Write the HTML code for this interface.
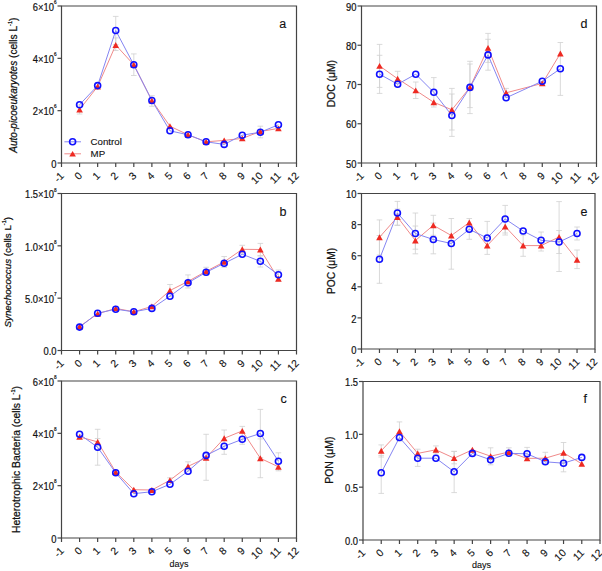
<!DOCTYPE html>
<html><head><meta charset="utf-8"><style>
html,body{margin:0;padding:0;background:#fff;}
svg{display:block;font-family:"Liberation Sans", sans-serif;fill:#111;}
text{fill:#111;stroke:#111;stroke-width:0.12px;}
</style></head><body>
<svg width="602" height="571" viewBox="0 0 602 571">
<rect width="602" height="571" fill="#fff"/>
<g><path d="M115.73 16.40V44.60M112.93 16.40H118.53M112.93 44.60H118.53" stroke="#d0d0d0" stroke-width="0.8" fill="none"/><path d="M133.81 53.90V75.50M131.01 53.90H136.61M131.01 75.50H136.61" stroke="#d0d0d0" stroke-width="0.8" fill="none"/><path d="M151.88 95.70V106.30M149.08 95.70H154.68M149.08 106.30H154.68" stroke="#d0d0d0" stroke-width="0.8" fill="none"/><path d="M260.35 126.20V137.80M257.55 126.20H263.15M257.55 137.80H263.15" stroke="#d0d0d0" stroke-width="0.8" fill="none"/><path d="M79.58 105.00V114.00M76.78 105.00H82.38M76.78 114.00H82.38" stroke="#d0d0d0" stroke-width="0.8" fill="none"/><path d="M115.73 37.90V50.50M112.93 37.90H118.53M112.93 50.50H118.53" stroke="#d0d0d0" stroke-width="0.8" fill="none"/><path d="M79.58 109.50 L97.65 86.50 L115.73 45.00 L133.81 64.80 L151.88 100.50 L169.96 126.20 L188.04 134.80 L206.12 141.80 L224.19 140.40 L242.27 138.40 L260.35 131.50 L278.42 128.40" stroke="#f08a8a" stroke-width="1.0" fill="none" stroke-linejoin="round"/><path d="M79.58 104.70 L97.65 85.60 L115.73 30.50 L133.81 64.80 L151.88 100.50 L169.96 130.80 L188.04 134.80 L206.12 141.80 L224.19 144.40 L242.27 135.20 L260.35 132.20 L278.42 124.80" stroke="#8585f2" stroke-width="1.0" fill="none" stroke-linejoin="round"/><path d="M79.58 106.50L82.88 112.40L76.28 112.40Z" fill="#ee2a22"/><path d="M97.65 83.50L100.95 89.40L94.35 89.40Z" fill="#ee2a22"/><path d="M115.73 42.00L119.03 47.90L112.43 47.90Z" fill="#ee2a22"/><path d="M133.81 61.80L137.11 67.70L130.51 67.70Z" fill="#ee2a22"/><path d="M151.88 97.50L155.18 103.40L148.58 103.40Z" fill="#ee2a22"/><path d="M169.96 123.20L173.26 129.10L166.66 129.10Z" fill="#ee2a22"/><path d="M188.04 131.80L191.34 137.70L184.74 137.70Z" fill="#ee2a22"/><path d="M206.12 138.80L209.42 144.70L202.82 144.70Z" fill="#ee2a22"/><path d="M224.19 137.40L227.49 143.30L220.89 143.30Z" fill="#ee2a22"/><path d="M242.27 135.40L245.57 141.30L238.97 141.30Z" fill="#ee2a22"/><path d="M260.35 128.50L263.65 134.40L257.05 134.40Z" fill="#ee2a22"/><path d="M278.42 125.40L281.72 131.30L275.12 131.30Z" fill="#ee2a22"/><circle cx="79.58" cy="104.70" r="3.0" stroke="#1010ff" stroke-width="1.6" fill="none"/><circle cx="97.65" cy="85.60" r="3.0" stroke="#1010ff" stroke-width="1.6" fill="none"/><circle cx="115.73" cy="30.50" r="3.0" stroke="#1010ff" stroke-width="1.6" fill="none"/><circle cx="133.81" cy="64.80" r="3.0" stroke="#1010ff" stroke-width="1.6" fill="none"/><circle cx="151.88" cy="100.50" r="3.0" stroke="#1010ff" stroke-width="1.6" fill="none"/><circle cx="169.96" cy="130.80" r="3.0" stroke="#1010ff" stroke-width="1.6" fill="none"/><circle cx="188.04" cy="134.80" r="3.0" stroke="#1010ff" stroke-width="1.6" fill="none"/><circle cx="206.12" cy="141.80" r="3.0" stroke="#1010ff" stroke-width="1.6" fill="none"/><circle cx="224.19" cy="144.40" r="3.0" stroke="#1010ff" stroke-width="1.6" fill="none"/><circle cx="242.27" cy="135.20" r="3.0" stroke="#1010ff" stroke-width="1.6" fill="none"/><circle cx="260.35" cy="132.20" r="3.0" stroke="#1010ff" stroke-width="1.6" fill="none"/><circle cx="278.42" cy="124.80" r="3.0" stroke="#1010ff" stroke-width="1.6" fill="none"/><path d="M61.5 6H296.5V163H61.5Z" stroke="#444" stroke-width="1.2" fill="none"/><path d="M57.50 163.00H61.5" stroke="#444" stroke-width="1.2"/><text transform="translate(56.50 167.60) scale(0.93 1)" text-anchor="end" font-size="10.1" style="stroke-width:0.2px">0</text><path d="M57.50 110.67H61.5" stroke="#444" stroke-width="1.2"/><text transform="translate(56.50 115.27) scale(0.93 1)" text-anchor="end" font-size="10.1" style="stroke-width:0.2px">2×10<tspan font-size="5" dy="-6.8">6</tspan></text><path d="M57.50 58.33H61.5" stroke="#444" stroke-width="1.2"/><text transform="translate(56.50 62.93) scale(0.93 1)" text-anchor="end" font-size="10.1" style="stroke-width:0.2px">4×10<tspan font-size="5" dy="-6.8">6</tspan></text><path d="M57.50 6.00H61.5" stroke="#444" stroke-width="1.2"/><text transform="translate(56.50 10.60) scale(0.93 1)" text-anchor="end" font-size="10.1" style="stroke-width:0.2px">6×10<tspan font-size="5" dy="-6.8">6</tspan></text><path d="M61.50 163V167" stroke="#444" stroke-width="1.2"/><text x="64.70" y="176.50" text-anchor="end" font-size="10.4" transform="rotate(-45 64.70 176.50)">-1</text><path d="M79.58 163V167" stroke="#444" stroke-width="1.2"/><text x="82.78" y="176.50" text-anchor="end" font-size="10.4" transform="rotate(-45 82.78 176.50)">0</text><path d="M97.65 163V167" stroke="#444" stroke-width="1.2"/><text x="100.85" y="176.50" text-anchor="end" font-size="10.4" transform="rotate(-45 100.85 176.50)">1</text><path d="M115.73 163V167" stroke="#444" stroke-width="1.2"/><text x="118.93" y="176.50" text-anchor="end" font-size="10.4" transform="rotate(-45 118.93 176.50)">2</text><path d="M133.81 163V167" stroke="#444" stroke-width="1.2"/><text x="137.01" y="176.50" text-anchor="end" font-size="10.4" transform="rotate(-45 137.01 176.50)">3</text><path d="M151.88 163V167" stroke="#444" stroke-width="1.2"/><text x="155.08" y="176.50" text-anchor="end" font-size="10.4" transform="rotate(-45 155.08 176.50)">4</text><path d="M169.96 163V167" stroke="#444" stroke-width="1.2"/><text x="173.16" y="176.50" text-anchor="end" font-size="10.4" transform="rotate(-45 173.16 176.50)">5</text><path d="M188.04 163V167" stroke="#444" stroke-width="1.2"/><text x="191.24" y="176.50" text-anchor="end" font-size="10.4" transform="rotate(-45 191.24 176.50)">6</text><path d="M206.12 163V167" stroke="#444" stroke-width="1.2"/><text x="209.32" y="176.50" text-anchor="end" font-size="10.4" transform="rotate(-45 209.32 176.50)">7</text><path d="M224.19 163V167" stroke="#444" stroke-width="1.2"/><text x="227.39" y="176.50" text-anchor="end" font-size="10.4" transform="rotate(-45 227.39 176.50)">8</text><path d="M242.27 163V167" stroke="#444" stroke-width="1.2"/><text x="245.47" y="176.50" text-anchor="end" font-size="10.4" transform="rotate(-45 245.47 176.50)">9</text><path d="M260.35 163V167" stroke="#444" stroke-width="1.2"/><text x="263.55" y="176.50" text-anchor="end" font-size="10.4" transform="rotate(-45 263.55 176.50)">10</text><path d="M278.42 163V167" stroke="#444" stroke-width="1.2"/><text x="281.62" y="176.50" text-anchor="end" font-size="10.4" transform="rotate(-45 281.62 176.50)">11</text><path d="M296.50 163V167" stroke="#444" stroke-width="1.2"/><text x="299.70" y="176.50" text-anchor="end" font-size="10.4" transform="rotate(-45 299.70 176.50)">12</text><text x="17.10" y="85.20" text-anchor="middle" font-size="10.1" style="stroke-width:0.25px" transform="rotate(-90 17.10 85.20)"><tspan font-style="italic">Auto-picoeukaryotes</tspan> (cells L<tspan font-size="5.6" dy="-5.2">-1</tspan><tspan dy="5.2">)</tspan></text><text x="279.30" y="28.30" font-size="12.5">a</text><path d="M64.4 141.8H81" stroke="#8585f2" stroke-width="1"/><circle cx="72.6" cy="141.8" r="3.0" stroke="#1010ff" stroke-width="1.6" fill="none"/><path d="M64.4 153.8H81" stroke="#f08a8a" stroke-width="1"/><path d="M72.6 150.9L75.9 156.5L69.3 156.5Z" fill="#ee2a22"/><text x="90.6" y="145.4" font-size="9.7">Control</text><text x="90.6" y="157" font-size="9.7">MP</text></g>
<g><path d="M260.35 256.00V267.00M257.55 256.00H263.15M257.55 267.00H263.15" stroke="#d0d0d0" stroke-width="0.8" fill="none"/><path d="M278.42 270.00V281.00M275.62 270.00H281.22M275.62 281.00H281.22" stroke="#d0d0d0" stroke-width="0.8" fill="none"/><path d="M169.96 284.50V296.50M167.16 284.50H172.76M167.16 296.50H172.76" stroke="#d0d0d0" stroke-width="0.8" fill="none"/><path d="M188.04 274.90V288.00M185.24 274.90H190.84M185.24 288.00H190.84" stroke="#d0d0d0" stroke-width="0.8" fill="none"/><path d="M206.12 267.30V275.30M203.32 267.30H208.92M203.32 275.30H208.92" stroke="#d0d0d0" stroke-width="0.8" fill="none"/><path d="M224.19 256.50V267.30M221.39 256.50H226.99M221.39 267.30H226.99" stroke="#d0d0d0" stroke-width="0.8" fill="none"/><path d="M242.27 245.30V253.30M239.47 245.30H245.07M239.47 253.30H245.07" stroke="#d0d0d0" stroke-width="0.8" fill="none"/><path d="M260.35 243.40V255.60M257.55 243.40H263.15M257.55 255.60H263.15" stroke="#d0d0d0" stroke-width="0.8" fill="none"/><path d="M79.58 326.50 L97.65 313.80 L115.73 308.40 L133.81 311.80 L151.88 306.40 L169.96 290.50 L188.04 281.40 L206.12 271.30 L224.19 261.90 L242.27 249.30 L260.35 249.50 L278.42 278.80" stroke="#f08a8a" stroke-width="1.0" fill="none" stroke-linejoin="round"/><path d="M79.58 327.10 L97.65 313.20 L115.73 309.20 L133.81 311.80 L151.88 308.40 L169.96 296.20 L188.04 282.80 L206.12 272.30 L224.19 263.30 L242.27 254.30 L260.35 261.30 L278.42 274.80" stroke="#8585f2" stroke-width="1.0" fill="none" stroke-linejoin="round"/><path d="M79.58 323.50L82.88 329.40L76.28 329.40Z" fill="#ee2a22"/><path d="M97.65 310.80L100.95 316.70L94.35 316.70Z" fill="#ee2a22"/><path d="M115.73 305.40L119.03 311.30L112.43 311.30Z" fill="#ee2a22"/><path d="M133.81 308.80L137.11 314.70L130.51 314.70Z" fill="#ee2a22"/><path d="M151.88 303.40L155.18 309.30L148.58 309.30Z" fill="#ee2a22"/><path d="M169.96 287.50L173.26 293.40L166.66 293.40Z" fill="#ee2a22"/><path d="M188.04 278.40L191.34 284.30L184.74 284.30Z" fill="#ee2a22"/><path d="M206.12 268.30L209.42 274.20L202.82 274.20Z" fill="#ee2a22"/><path d="M224.19 258.90L227.49 264.80L220.89 264.80Z" fill="#ee2a22"/><path d="M242.27 246.30L245.57 252.20L238.97 252.20Z" fill="#ee2a22"/><path d="M260.35 246.50L263.65 252.40L257.05 252.40Z" fill="#ee2a22"/><path d="M278.42 275.80L281.72 281.70L275.12 281.70Z" fill="#ee2a22"/><circle cx="79.58" cy="327.10" r="3.0" stroke="#1010ff" stroke-width="1.6" fill="none"/><circle cx="97.65" cy="313.20" r="3.0" stroke="#1010ff" stroke-width="1.6" fill="none"/><circle cx="115.73" cy="309.20" r="3.0" stroke="#1010ff" stroke-width="1.6" fill="none"/><circle cx="133.81" cy="311.80" r="3.0" stroke="#1010ff" stroke-width="1.6" fill="none"/><circle cx="151.88" cy="308.40" r="3.0" stroke="#1010ff" stroke-width="1.6" fill="none"/><circle cx="169.96" cy="296.20" r="3.0" stroke="#1010ff" stroke-width="1.6" fill="none"/><circle cx="188.04" cy="282.80" r="3.0" stroke="#1010ff" stroke-width="1.6" fill="none"/><circle cx="206.12" cy="272.30" r="3.0" stroke="#1010ff" stroke-width="1.6" fill="none"/><circle cx="224.19" cy="263.30" r="3.0" stroke="#1010ff" stroke-width="1.6" fill="none"/><circle cx="242.27" cy="254.30" r="3.0" stroke="#1010ff" stroke-width="1.6" fill="none"/><circle cx="260.35" cy="261.30" r="3.0" stroke="#1010ff" stroke-width="1.6" fill="none"/><circle cx="278.42" cy="274.80" r="3.0" stroke="#1010ff" stroke-width="1.6" fill="none"/><path d="M61.5 193.5H296.5V350.5H61.5Z" stroke="#444" stroke-width="1.2" fill="none"/><path d="M57.50 350.50H61.5" stroke="#444" stroke-width="1.2"/><text transform="translate(56.50 355.30) scale(0.93 1)" text-anchor="end" font-size="10.1" style="stroke-width:0.2px">0.0</text><path d="M57.50 298.17H61.5" stroke="#444" stroke-width="1.2"/><text transform="translate(56.50 302.97) scale(0.93 1)" text-anchor="end" font-size="10.1" style="stroke-width:0.2px">5.0×10<tspan font-size="5" dy="-6.8">7</tspan></text><path d="M57.50 245.83H61.5" stroke="#444" stroke-width="1.2"/><text transform="translate(56.50 250.63) scale(0.93 1)" text-anchor="end" font-size="10.1" style="stroke-width:0.2px">1.0×10<tspan font-size="5" dy="-6.8">8</tspan></text><path d="M57.50 193.50H61.5" stroke="#444" stroke-width="1.2"/><text transform="translate(56.50 198.30) scale(0.93 1)" text-anchor="end" font-size="10.1" style="stroke-width:0.2px">1.5×10<tspan font-size="5" dy="-6.8">8</tspan></text><path d="M61.50 350.5V354.5" stroke="#444" stroke-width="1.2"/><text x="64.70" y="364.00" text-anchor="end" font-size="10.4" transform="rotate(-45 64.70 364.00)">-1</text><path d="M79.58 350.5V354.5" stroke="#444" stroke-width="1.2"/><text x="82.78" y="364.00" text-anchor="end" font-size="10.4" transform="rotate(-45 82.78 364.00)">0</text><path d="M97.65 350.5V354.5" stroke="#444" stroke-width="1.2"/><text x="100.85" y="364.00" text-anchor="end" font-size="10.4" transform="rotate(-45 100.85 364.00)">1</text><path d="M115.73 350.5V354.5" stroke="#444" stroke-width="1.2"/><text x="118.93" y="364.00" text-anchor="end" font-size="10.4" transform="rotate(-45 118.93 364.00)">2</text><path d="M133.81 350.5V354.5" stroke="#444" stroke-width="1.2"/><text x="137.01" y="364.00" text-anchor="end" font-size="10.4" transform="rotate(-45 137.01 364.00)">3</text><path d="M151.88 350.5V354.5" stroke="#444" stroke-width="1.2"/><text x="155.08" y="364.00" text-anchor="end" font-size="10.4" transform="rotate(-45 155.08 364.00)">4</text><path d="M169.96 350.5V354.5" stroke="#444" stroke-width="1.2"/><text x="173.16" y="364.00" text-anchor="end" font-size="10.4" transform="rotate(-45 173.16 364.00)">5</text><path d="M188.04 350.5V354.5" stroke="#444" stroke-width="1.2"/><text x="191.24" y="364.00" text-anchor="end" font-size="10.4" transform="rotate(-45 191.24 364.00)">6</text><path d="M206.12 350.5V354.5" stroke="#444" stroke-width="1.2"/><text x="209.32" y="364.00" text-anchor="end" font-size="10.4" transform="rotate(-45 209.32 364.00)">7</text><path d="M224.19 350.5V354.5" stroke="#444" stroke-width="1.2"/><text x="227.39" y="364.00" text-anchor="end" font-size="10.4" transform="rotate(-45 227.39 364.00)">8</text><path d="M242.27 350.5V354.5" stroke="#444" stroke-width="1.2"/><text x="245.47" y="364.00" text-anchor="end" font-size="10.4" transform="rotate(-45 245.47 364.00)">9</text><path d="M260.35 350.5V354.5" stroke="#444" stroke-width="1.2"/><text x="263.55" y="364.00" text-anchor="end" font-size="10.4" transform="rotate(-45 263.55 364.00)">10</text><path d="M278.42 350.5V354.5" stroke="#444" stroke-width="1.2"/><text x="281.62" y="364.00" text-anchor="end" font-size="10.4" transform="rotate(-45 281.62 364.00)">11</text><path d="M296.50 350.5V354.5" stroke="#444" stroke-width="1.2"/><text x="299.70" y="364.00" text-anchor="end" font-size="10.4" transform="rotate(-45 299.70 364.00)">12</text><text x="10.80" y="272.20" text-anchor="middle" font-size="9.8" style="stroke-width:0.25px" transform="rotate(-90 10.80 272.20)"><tspan font-style="italic">Synechococcus</tspan> (cells L<tspan font-size="5.6" dy="-5.2">-1</tspan><tspan dy="5.2">)</tspan></text><text x="279.60" y="216.30" font-size="12.5">b</text></g>
<g><path d="M97.65 429.30V465.20M94.85 429.30H100.45M94.85 465.20H100.45" stroke="#d0d0d0" stroke-width="0.8" fill="none"/><path d="M206.12 434.30V480.30M203.32 434.30H208.92M203.32 480.30H208.92" stroke="#d0d0d0" stroke-width="0.8" fill="none"/><path d="M260.35 409.40V457.60M257.55 409.40H263.15M257.55 457.60H263.15" stroke="#d0d0d0" stroke-width="0.8" fill="none"/><path d="M278.42 452.80V470.80M275.62 452.80H281.22M275.62 470.80H281.22" stroke="#d0d0d0" stroke-width="0.8" fill="none"/><path d="M97.65 438.50V445.30M94.85 438.50H100.45M94.85 445.30H100.45" stroke="#d0d0d0" stroke-width="0.8" fill="none"/><path d="M169.96 477.80V482.60M167.16 477.80H172.76M167.16 482.60H172.76" stroke="#d0d0d0" stroke-width="0.8" fill="none"/><path d="M188.04 461.80V471.00M185.24 461.80H190.84M185.24 471.00H190.84" stroke="#d0d0d0" stroke-width="0.8" fill="none"/><path d="M224.19 430.00V454.30M221.39 430.00H226.99M221.39 454.30H226.99" stroke="#d0d0d0" stroke-width="0.8" fill="none"/><path d="M242.27 426.40V444.30M239.47 426.40H245.07M239.47 444.30H245.07" stroke="#d0d0d0" stroke-width="0.8" fill="none"/><path d="M260.35 438.90V477.70M257.55 438.90H263.15M257.55 477.70H263.15" stroke="#d0d0d0" stroke-width="0.8" fill="none"/><path d="M79.58 436.90 L97.65 441.90 L115.73 472.00 L133.81 489.70 L151.88 490.00 L169.96 480.20 L188.04 466.40 L206.12 457.80 L224.19 438.30 L242.27 430.90 L260.35 458.30 L278.42 466.80" stroke="#f08a8a" stroke-width="1.0" fill="none" stroke-linejoin="round"/><path d="M79.58 434.30 L97.65 447.30 L115.73 472.80 L133.81 493.70 L151.88 491.70 L169.96 484.30 L188.04 471.20 L206.12 455.40 L224.19 446.30 L242.27 439.30 L260.35 433.50 L278.42 461.20" stroke="#8585f2" stroke-width="1.0" fill="none" stroke-linejoin="round"/><path d="M79.58 433.90L82.88 439.80L76.28 439.80Z" fill="#ee2a22"/><path d="M97.65 438.90L100.95 444.80L94.35 444.80Z" fill="#ee2a22"/><path d="M115.73 469.00L119.03 474.90L112.43 474.90Z" fill="#ee2a22"/><path d="M133.81 486.70L137.11 492.60L130.51 492.60Z" fill="#ee2a22"/><path d="M151.88 487.00L155.18 492.90L148.58 492.90Z" fill="#ee2a22"/><path d="M169.96 477.20L173.26 483.10L166.66 483.10Z" fill="#ee2a22"/><path d="M188.04 463.40L191.34 469.30L184.74 469.30Z" fill="#ee2a22"/><path d="M206.12 454.80L209.42 460.70L202.82 460.70Z" fill="#ee2a22"/><path d="M224.19 435.30L227.49 441.20L220.89 441.20Z" fill="#ee2a22"/><path d="M242.27 427.90L245.57 433.80L238.97 433.80Z" fill="#ee2a22"/><path d="M260.35 455.30L263.65 461.20L257.05 461.20Z" fill="#ee2a22"/><path d="M278.42 463.80L281.72 469.70L275.12 469.70Z" fill="#ee2a22"/><circle cx="79.58" cy="434.30" r="3.0" stroke="#1010ff" stroke-width="1.6" fill="none"/><circle cx="97.65" cy="447.30" r="3.0" stroke="#1010ff" stroke-width="1.6" fill="none"/><circle cx="115.73" cy="472.80" r="3.0" stroke="#1010ff" stroke-width="1.6" fill="none"/><circle cx="133.81" cy="493.70" r="3.0" stroke="#1010ff" stroke-width="1.6" fill="none"/><circle cx="151.88" cy="491.70" r="3.0" stroke="#1010ff" stroke-width="1.6" fill="none"/><circle cx="169.96" cy="484.30" r="3.0" stroke="#1010ff" stroke-width="1.6" fill="none"/><circle cx="188.04" cy="471.20" r="3.0" stroke="#1010ff" stroke-width="1.6" fill="none"/><circle cx="206.12" cy="455.40" r="3.0" stroke="#1010ff" stroke-width="1.6" fill="none"/><circle cx="224.19" cy="446.30" r="3.0" stroke="#1010ff" stroke-width="1.6" fill="none"/><circle cx="242.27" cy="439.30" r="3.0" stroke="#1010ff" stroke-width="1.6" fill="none"/><circle cx="260.35" cy="433.50" r="3.0" stroke="#1010ff" stroke-width="1.6" fill="none"/><circle cx="278.42" cy="461.20" r="3.0" stroke="#1010ff" stroke-width="1.6" fill="none"/><path d="M61.5 381H296.5V538H61.5Z" stroke="#444" stroke-width="1.2" fill="none"/><path d="M57.50 538.00H61.5" stroke="#444" stroke-width="1.2"/><text transform="translate(56.50 542.60) scale(0.93 1)" text-anchor="end" font-size="10.1" style="stroke-width:0.2px">0</text><path d="M57.50 485.67H61.5" stroke="#444" stroke-width="1.2"/><text transform="translate(56.50 490.27) scale(0.93 1)" text-anchor="end" font-size="10.1" style="stroke-width:0.2px">2×10<tspan font-size="5" dy="-6.8">8</tspan></text><path d="M57.50 433.33H61.5" stroke="#444" stroke-width="1.2"/><text transform="translate(56.50 437.93) scale(0.93 1)" text-anchor="end" font-size="10.1" style="stroke-width:0.2px">4×10<tspan font-size="5" dy="-6.8">8</tspan></text><path d="M57.50 381.00H61.5" stroke="#444" stroke-width="1.2"/><text transform="translate(56.50 385.60) scale(0.93 1)" text-anchor="end" font-size="10.1" style="stroke-width:0.2px">6×10<tspan font-size="5" dy="-6.8">8</tspan></text><path d="M61.50 538V542" stroke="#444" stroke-width="1.2"/><text x="64.70" y="551.50" text-anchor="end" font-size="10.4" transform="rotate(-45 64.70 551.50)">-1</text><path d="M79.58 538V542" stroke="#444" stroke-width="1.2"/><text x="82.78" y="551.50" text-anchor="end" font-size="10.4" transform="rotate(-45 82.78 551.50)">0</text><path d="M97.65 538V542" stroke="#444" stroke-width="1.2"/><text x="100.85" y="551.50" text-anchor="end" font-size="10.4" transform="rotate(-45 100.85 551.50)">1</text><path d="M115.73 538V542" stroke="#444" stroke-width="1.2"/><text x="118.93" y="551.50" text-anchor="end" font-size="10.4" transform="rotate(-45 118.93 551.50)">2</text><path d="M133.81 538V542" stroke="#444" stroke-width="1.2"/><text x="137.01" y="551.50" text-anchor="end" font-size="10.4" transform="rotate(-45 137.01 551.50)">3</text><path d="M151.88 538V542" stroke="#444" stroke-width="1.2"/><text x="155.08" y="551.50" text-anchor="end" font-size="10.4" transform="rotate(-45 155.08 551.50)">4</text><path d="M169.96 538V542" stroke="#444" stroke-width="1.2"/><text x="173.16" y="551.50" text-anchor="end" font-size="10.4" transform="rotate(-45 173.16 551.50)">5</text><path d="M188.04 538V542" stroke="#444" stroke-width="1.2"/><text x="191.24" y="551.50" text-anchor="end" font-size="10.4" transform="rotate(-45 191.24 551.50)">6</text><path d="M206.12 538V542" stroke="#444" stroke-width="1.2"/><text x="209.32" y="551.50" text-anchor="end" font-size="10.4" transform="rotate(-45 209.32 551.50)">7</text><path d="M224.19 538V542" stroke="#444" stroke-width="1.2"/><text x="227.39" y="551.50" text-anchor="end" font-size="10.4" transform="rotate(-45 227.39 551.50)">8</text><path d="M242.27 538V542" stroke="#444" stroke-width="1.2"/><text x="245.47" y="551.50" text-anchor="end" font-size="10.4" transform="rotate(-45 245.47 551.50)">9</text><path d="M260.35 538V542" stroke="#444" stroke-width="1.2"/><text x="263.55" y="551.50" text-anchor="end" font-size="10.4" transform="rotate(-45 263.55 551.50)">10</text><path d="M278.42 538V542" stroke="#444" stroke-width="1.2"/><text x="281.62" y="551.50" text-anchor="end" font-size="10.4" transform="rotate(-45 281.62 551.50)">11</text><path d="M296.50 538V542" stroke="#444" stroke-width="1.2"/><text x="299.70" y="551.50" text-anchor="end" font-size="10.4" transform="rotate(-45 299.70 551.50)">12</text><text x="20.10" y="459.50" text-anchor="middle" font-size="10.35" style="stroke-width:0.25px" transform="rotate(-90 20.10 459.50)">Heterotrophic Bacteria (cells L<tspan font-size="5.6" dy="-5.2">-1</tspan><tspan dy="5.2">)</tspan></text><text x="280.60" y="403.00" font-size="12.5">c</text><text x="179.00" y="566.70" text-anchor="middle" font-size="9">days</text></g>
<g><path d="M379.58 55.30V93.40M376.78 55.30H382.38M376.78 93.40H382.38" stroke="#d0d0d0" stroke-width="0.8" fill="none"/><path d="M433.81 77.60V107.00M431.01 77.60H436.61M431.01 107.00H436.61" stroke="#d0d0d0" stroke-width="0.8" fill="none"/><path d="M451.88 94.00V136.40M449.08 94.00H454.68M449.08 136.40H454.68" stroke="#d0d0d0" stroke-width="0.8" fill="none"/><path d="M469.96 61.30V113.60M467.16 61.30H472.76M467.16 113.60H472.76" stroke="#d0d0d0" stroke-width="0.8" fill="none"/><path d="M488.04 39.30V70.20M485.24 39.30H490.84M485.24 70.20H490.84" stroke="#d0d0d0" stroke-width="0.8" fill="none"/><path d="M560.35 42.50V95.40M557.55 42.50H563.15M557.55 95.40H563.15" stroke="#d0d0d0" stroke-width="0.8" fill="none"/><path d="M379.58 44.40V87.40M376.78 44.40H382.38M376.78 87.40H382.38" stroke="#d0d0d0" stroke-width="0.8" fill="none"/><path d="M397.65 71.30V86.30M394.85 71.30H400.45M394.85 86.30H400.45" stroke="#d0d0d0" stroke-width="0.8" fill="none"/><path d="M415.73 82.00V98.50M412.93 82.00H418.53M412.93 98.50H418.53" stroke="#d0d0d0" stroke-width="0.8" fill="none"/><path d="M451.88 88.40V130.00M449.08 88.40H454.68M449.08 130.00H454.68" stroke="#d0d0d0" stroke-width="0.8" fill="none"/><path d="M469.96 64.00V107.60M467.16 64.00H472.76M467.16 107.60H472.76" stroke="#d0d0d0" stroke-width="0.8" fill="none"/><path d="M488.04 33.40V62.40M485.24 33.40H490.84M485.24 62.40H490.84" stroke="#d0d0d0" stroke-width="0.8" fill="none"/><path d="M506.12 88.40V97.20M503.32 88.40H508.92M503.32 97.20H508.92" stroke="#d0d0d0" stroke-width="0.8" fill="none"/><path d="M379.58 65.90 L397.65 78.80 L415.73 90.40 L433.81 102.30 L451.88 109.80 L469.96 87.40 L488.04 47.90 L506.12 92.80 L542.27 83.40 L560.35 53.50" stroke="#f08a8a" stroke-width="1.0" fill="none" stroke-linejoin="round"/><path d="M379.58 74.20 L397.65 84.20 L415.73 74.20 L433.81 92.30 L451.88 115.50 L469.96 87.40 L488.04 54.90 L506.12 97.80 L542.27 81.20 L560.35 68.80" stroke="#8585f2" stroke-width="1.0" fill="none" stroke-linejoin="round"/><path d="M379.58 62.90L382.88 68.80L376.28 68.80Z" fill="#ee2a22"/><path d="M397.65 75.80L400.95 81.70L394.35 81.70Z" fill="#ee2a22"/><path d="M415.73 87.40L419.03 93.30L412.43 93.30Z" fill="#ee2a22"/><path d="M433.81 99.30L437.11 105.20L430.51 105.20Z" fill="#ee2a22"/><path d="M451.88 106.80L455.18 112.70L448.58 112.70Z" fill="#ee2a22"/><path d="M469.96 84.40L473.26 90.30L466.66 90.30Z" fill="#ee2a22"/><path d="M488.04 44.90L491.34 50.80L484.74 50.80Z" fill="#ee2a22"/><path d="M506.12 89.80L509.42 95.70L502.82 95.70Z" fill="#ee2a22"/><path d="M542.27 80.40L545.57 86.30L538.97 86.30Z" fill="#ee2a22"/><path d="M560.35 50.50L563.65 56.40L557.05 56.40Z" fill="#ee2a22"/><circle cx="379.58" cy="74.20" r="3.0" stroke="#1010ff" stroke-width="1.6" fill="none"/><circle cx="397.65" cy="84.20" r="3.0" stroke="#1010ff" stroke-width="1.6" fill="none"/><circle cx="415.73" cy="74.20" r="3.0" stroke="#1010ff" stroke-width="1.6" fill="none"/><circle cx="433.81" cy="92.30" r="3.0" stroke="#1010ff" stroke-width="1.6" fill="none"/><circle cx="451.88" cy="115.50" r="3.0" stroke="#1010ff" stroke-width="1.6" fill="none"/><circle cx="469.96" cy="87.40" r="3.0" stroke="#1010ff" stroke-width="1.6" fill="none"/><circle cx="488.04" cy="54.90" r="3.0" stroke="#1010ff" stroke-width="1.6" fill="none"/><circle cx="506.12" cy="97.80" r="3.0" stroke="#1010ff" stroke-width="1.6" fill="none"/><circle cx="542.27" cy="81.20" r="3.0" stroke="#1010ff" stroke-width="1.6" fill="none"/><circle cx="560.35" cy="68.80" r="3.0" stroke="#1010ff" stroke-width="1.6" fill="none"/><path d="M361.5 6H596.5V163H361.5Z" stroke="#444" stroke-width="1.2" fill="none"/><path d="M357.50 163.00H361.5" stroke="#444" stroke-width="1.2"/><text transform="translate(356.50 167.60) scale(0.93 1)" text-anchor="end" font-size="10.1" style="stroke-width:0.2px">50</text><path d="M357.50 123.75H361.5" stroke="#444" stroke-width="1.2"/><text transform="translate(356.50 128.35) scale(0.93 1)" text-anchor="end" font-size="10.1" style="stroke-width:0.2px">60</text><path d="M357.50 84.50H361.5" stroke="#444" stroke-width="1.2"/><text transform="translate(356.50 89.10) scale(0.93 1)" text-anchor="end" font-size="10.1" style="stroke-width:0.2px">70</text><path d="M357.50 45.25H361.5" stroke="#444" stroke-width="1.2"/><text transform="translate(356.50 49.85) scale(0.93 1)" text-anchor="end" font-size="10.1" style="stroke-width:0.2px">80</text><path d="M357.50 6.00H361.5" stroke="#444" stroke-width="1.2"/><text transform="translate(356.50 10.60) scale(0.93 1)" text-anchor="end" font-size="10.1" style="stroke-width:0.2px">90</text><path d="M361.50 163V167" stroke="#444" stroke-width="1.2"/><text x="364.70" y="176.50" text-anchor="end" font-size="10.4" transform="rotate(-45 364.70 176.50)">-1</text><path d="M379.58 163V167" stroke="#444" stroke-width="1.2"/><text x="382.78" y="176.50" text-anchor="end" font-size="10.4" transform="rotate(-45 382.78 176.50)">0</text><path d="M397.65 163V167" stroke="#444" stroke-width="1.2"/><text x="400.85" y="176.50" text-anchor="end" font-size="10.4" transform="rotate(-45 400.85 176.50)">1</text><path d="M415.73 163V167" stroke="#444" stroke-width="1.2"/><text x="418.93" y="176.50" text-anchor="end" font-size="10.4" transform="rotate(-45 418.93 176.50)">2</text><path d="M433.81 163V167" stroke="#444" stroke-width="1.2"/><text x="437.01" y="176.50" text-anchor="end" font-size="10.4" transform="rotate(-45 437.01 176.50)">3</text><path d="M451.88 163V167" stroke="#444" stroke-width="1.2"/><text x="455.08" y="176.50" text-anchor="end" font-size="10.4" transform="rotate(-45 455.08 176.50)">4</text><path d="M469.96 163V167" stroke="#444" stroke-width="1.2"/><text x="473.16" y="176.50" text-anchor="end" font-size="10.4" transform="rotate(-45 473.16 176.50)">5</text><path d="M488.04 163V167" stroke="#444" stroke-width="1.2"/><text x="491.24" y="176.50" text-anchor="end" font-size="10.4" transform="rotate(-45 491.24 176.50)">6</text><path d="M506.12 163V167" stroke="#444" stroke-width="1.2"/><text x="509.32" y="176.50" text-anchor="end" font-size="10.4" transform="rotate(-45 509.32 176.50)">7</text><path d="M524.19 163V167" stroke="#444" stroke-width="1.2"/><text x="527.39" y="176.50" text-anchor="end" font-size="10.4" transform="rotate(-45 527.39 176.50)">8</text><path d="M542.27 163V167" stroke="#444" stroke-width="1.2"/><text x="545.47" y="176.50" text-anchor="end" font-size="10.4" transform="rotate(-45 545.47 176.50)">9</text><path d="M560.35 163V167" stroke="#444" stroke-width="1.2"/><text x="563.55" y="176.50" text-anchor="end" font-size="10.4" transform="rotate(-45 563.55 176.50)">10</text><path d="M578.42 163V167" stroke="#444" stroke-width="1.2"/><text x="581.62" y="176.50" text-anchor="end" font-size="10.4" transform="rotate(-45 581.62 176.50)">11</text><path d="M596.50 163V167" stroke="#444" stroke-width="1.2"/><text x="599.70" y="176.50" text-anchor="end" font-size="10.4" transform="rotate(-45 599.70 176.50)">12</text><text x="335.00" y="83.65" text-anchor="middle" font-size="10.35" style="stroke-width:0.25px" transform="rotate(-90 335.00 83.65)">DOC (μM)</text><text x="580.60" y="28.00" font-size="12.5">d</text></g>
<g><path d="M379.46 235.50V283.30M376.66 235.50H382.26M376.66 283.30H382.26" stroke="#d0d0d0" stroke-width="0.8" fill="none"/><path d="M397.42 201.40V225.30M394.62 201.40H400.22M394.62 225.30H400.22" stroke="#d0d0d0" stroke-width="0.8" fill="none"/><path d="M415.38 213.00V253.80M412.58 213.00H418.18M412.58 253.80H418.18" stroke="#d0d0d0" stroke-width="0.8" fill="none"/><path d="M433.35 223.00V253.80M430.55 223.00H436.15M430.55 253.80H436.15" stroke="#d0d0d0" stroke-width="0.8" fill="none"/><path d="M451.31 218.50V269.20M448.51 218.50H454.11M448.51 269.20H454.11" stroke="#d0d0d0" stroke-width="0.8" fill="none"/><path d="M469.27 218.50V239.30M466.47 218.50H472.07M466.47 239.30H472.07" stroke="#d0d0d0" stroke-width="0.8" fill="none"/><path d="M487.23 221.40V254.40M484.43 221.40H490.03M484.43 254.40H490.03" stroke="#d0d0d0" stroke-width="0.8" fill="none"/><path d="M505.19 205.40V233.00M502.39 205.40H507.99M502.39 233.00H507.99" stroke="#d0d0d0" stroke-width="0.8" fill="none"/><path d="M541.12 232.00V251.00M538.32 232.00H543.92M538.32 251.00H543.92" stroke="#d0d0d0" stroke-width="0.8" fill="none"/><path d="M559.08 201.60V271.50M556.28 201.60H561.88M556.28 271.50H561.88" stroke="#d0d0d0" stroke-width="0.8" fill="none"/><path d="M577.04 227.00V240.00M574.24 227.00H579.84M574.24 240.00H579.84" stroke="#d0d0d0" stroke-width="0.8" fill="none"/><path d="M379.46 219.90V255.00M376.66 219.90H382.26M376.66 255.00H382.26" stroke="#d0d0d0" stroke-width="0.8" fill="none"/><path d="M397.42 209.00V225.30M394.62 209.00H400.22M394.62 225.30H400.22" stroke="#d0d0d0" stroke-width="0.8" fill="none"/><path d="M415.38 226.00V249.20M412.58 226.00H418.18M412.58 249.20H418.18" stroke="#d0d0d0" stroke-width="0.8" fill="none"/><path d="M433.35 215.30V235.30M430.55 215.30H436.15M430.55 235.30H436.15" stroke="#d0d0d0" stroke-width="0.8" fill="none"/><path d="M505.19 217.00V235.00M502.39 217.00H507.99M502.39 235.00H507.99" stroke="#d0d0d0" stroke-width="0.8" fill="none"/><path d="M523.15 235.00V256.30M520.35 235.00H525.95M520.35 256.30H525.95" stroke="#d0d0d0" stroke-width="0.8" fill="none"/><path d="M559.08 230.50V253.50M556.28 230.50H561.88M556.28 253.50H561.88" stroke="#d0d0d0" stroke-width="0.8" fill="none"/><path d="M577.04 250.00V268.60M574.24 250.00H579.84M574.24 268.60H579.84" stroke="#d0d0d0" stroke-width="0.8" fill="none"/><path d="M379.46 237.30 L397.42 217.00 L415.38 240.50 L433.35 225.30 L451.31 235.50 L469.27 222.50 L487.23 245.60 L505.19 226.60 L523.15 245.60 L541.12 245.60 L559.08 237.00 L577.04 259.80" stroke="#f08a8a" stroke-width="1.0" fill="none" stroke-linejoin="round"/><path d="M379.46 259.20 L397.42 213.00 L415.38 233.50 L433.35 239.50 L451.31 243.50 L469.27 229.30 L487.23 238.00 L505.19 219.00 L523.15 231.00 L541.12 240.30 L559.08 242.00 L577.04 233.50" stroke="#8585f2" stroke-width="1.0" fill="none" stroke-linejoin="round"/><path d="M379.46 234.30L382.76 240.20L376.16 240.20Z" fill="#ee2a22"/><path d="M397.42 214.00L400.72 219.90L394.12 219.90Z" fill="#ee2a22"/><path d="M415.38 237.50L418.68 243.40L412.08 243.40Z" fill="#ee2a22"/><path d="M433.35 222.30L436.65 228.20L430.05 228.20Z" fill="#ee2a22"/><path d="M451.31 232.50L454.61 238.40L448.01 238.40Z" fill="#ee2a22"/><path d="M469.27 219.50L472.57 225.40L465.97 225.40Z" fill="#ee2a22"/><path d="M487.23 242.60L490.53 248.50L483.93 248.50Z" fill="#ee2a22"/><path d="M505.19 223.60L508.49 229.50L501.89 229.50Z" fill="#ee2a22"/><path d="M523.15 242.60L526.45 248.50L519.85 248.50Z" fill="#ee2a22"/><path d="M541.12 242.60L544.42 248.50L537.82 248.50Z" fill="#ee2a22"/><path d="M559.08 234.00L562.38 239.90L555.78 239.90Z" fill="#ee2a22"/><path d="M577.04 256.80L580.34 262.70L573.74 262.70Z" fill="#ee2a22"/><circle cx="379.46" cy="259.20" r="3.0" stroke="#1010ff" stroke-width="1.6" fill="none"/><circle cx="397.42" cy="213.00" r="3.0" stroke="#1010ff" stroke-width="1.6" fill="none"/><circle cx="415.38" cy="233.50" r="3.0" stroke="#1010ff" stroke-width="1.6" fill="none"/><circle cx="433.35" cy="239.50" r="3.0" stroke="#1010ff" stroke-width="1.6" fill="none"/><circle cx="451.31" cy="243.50" r="3.0" stroke="#1010ff" stroke-width="1.6" fill="none"/><circle cx="469.27" cy="229.30" r="3.0" stroke="#1010ff" stroke-width="1.6" fill="none"/><circle cx="487.23" cy="238.00" r="3.0" stroke="#1010ff" stroke-width="1.6" fill="none"/><circle cx="505.19" cy="219.00" r="3.0" stroke="#1010ff" stroke-width="1.6" fill="none"/><circle cx="523.15" cy="231.00" r="3.0" stroke="#1010ff" stroke-width="1.6" fill="none"/><circle cx="541.12" cy="240.30" r="3.0" stroke="#1010ff" stroke-width="1.6" fill="none"/><circle cx="559.08" cy="242.00" r="3.0" stroke="#1010ff" stroke-width="1.6" fill="none"/><circle cx="577.04" cy="233.50" r="3.0" stroke="#1010ff" stroke-width="1.6" fill="none"/><path d="M361.5 193.5H595V349H361.5Z" stroke="#444" stroke-width="1.2" fill="none"/><path d="M357.50 349.00H361.5" stroke="#444" stroke-width="1.2"/><text transform="translate(356.50 353.60) scale(0.93 1)" text-anchor="end" font-size="10.1" style="stroke-width:0.2px">0</text><path d="M357.50 317.90H361.5" stroke="#444" stroke-width="1.2"/><text transform="translate(356.50 322.50) scale(0.93 1)" text-anchor="end" font-size="10.1" style="stroke-width:0.2px">2</text><path d="M357.50 286.80H361.5" stroke="#444" stroke-width="1.2"/><text transform="translate(356.50 291.40) scale(0.93 1)" text-anchor="end" font-size="10.1" style="stroke-width:0.2px">4</text><path d="M357.50 255.70H361.5" stroke="#444" stroke-width="1.2"/><text transform="translate(356.50 260.30) scale(0.93 1)" text-anchor="end" font-size="10.1" style="stroke-width:0.2px">6</text><path d="M357.50 224.60H361.5" stroke="#444" stroke-width="1.2"/><text transform="translate(356.50 229.20) scale(0.93 1)" text-anchor="end" font-size="10.1" style="stroke-width:0.2px">8</text><path d="M357.50 193.50H361.5" stroke="#444" stroke-width="1.2"/><text transform="translate(356.50 198.10) scale(0.93 1)" text-anchor="end" font-size="10.1" style="stroke-width:0.2px">10</text><path d="M361.50 349V353" stroke="#444" stroke-width="1.2"/><text x="364.70" y="362.50" text-anchor="end" font-size="10.4" transform="rotate(-45 364.70 362.50)">-1</text><path d="M379.46 349V353" stroke="#444" stroke-width="1.2"/><text x="382.66" y="362.50" text-anchor="end" font-size="10.4" transform="rotate(-45 382.66 362.50)">0</text><path d="M397.42 349V353" stroke="#444" stroke-width="1.2"/><text x="400.62" y="362.50" text-anchor="end" font-size="10.4" transform="rotate(-45 400.62 362.50)">1</text><path d="M415.38 349V353" stroke="#444" stroke-width="1.2"/><text x="418.58" y="362.50" text-anchor="end" font-size="10.4" transform="rotate(-45 418.58 362.50)">2</text><path d="M433.35 349V353" stroke="#444" stroke-width="1.2"/><text x="436.55" y="362.50" text-anchor="end" font-size="10.4" transform="rotate(-45 436.55 362.50)">3</text><path d="M451.31 349V353" stroke="#444" stroke-width="1.2"/><text x="454.51" y="362.50" text-anchor="end" font-size="10.4" transform="rotate(-45 454.51 362.50)">4</text><path d="M469.27 349V353" stroke="#444" stroke-width="1.2"/><text x="472.47" y="362.50" text-anchor="end" font-size="10.4" transform="rotate(-45 472.47 362.50)">5</text><path d="M487.23 349V353" stroke="#444" stroke-width="1.2"/><text x="490.43" y="362.50" text-anchor="end" font-size="10.4" transform="rotate(-45 490.43 362.50)">6</text><path d="M505.19 349V353" stroke="#444" stroke-width="1.2"/><text x="508.39" y="362.50" text-anchor="end" font-size="10.4" transform="rotate(-45 508.39 362.50)">7</text><path d="M523.15 349V353" stroke="#444" stroke-width="1.2"/><text x="526.35" y="362.50" text-anchor="end" font-size="10.4" transform="rotate(-45 526.35 362.50)">8</text><path d="M541.12 349V353" stroke="#444" stroke-width="1.2"/><text x="544.32" y="362.50" text-anchor="end" font-size="10.4" transform="rotate(-45 544.32 362.50)">9</text><path d="M559.08 349V353" stroke="#444" stroke-width="1.2"/><text x="562.28" y="362.50" text-anchor="end" font-size="10.4" transform="rotate(-45 562.28 362.50)">10</text><path d="M577.04 349V353" stroke="#444" stroke-width="1.2"/><text x="580.24" y="362.50" text-anchor="end" font-size="10.4" transform="rotate(-45 580.24 362.50)">11</text><path d="M595.00 349V353" stroke="#444" stroke-width="1.2"/><text x="598.20" y="362.50" text-anchor="end" font-size="10.4" transform="rotate(-45 598.20 362.50)">12</text><text x="335.10" y="270.90" text-anchor="middle" font-size="10.2" style="stroke-width:0.25px" transform="rotate(-90 335.10 270.90)">POC (μM)</text><text x="580.60" y="216.00" font-size="12.5">e</text></g>
<g><path d="M381.23 455.40V493.40M378.43 455.40H384.03M378.43 493.40H384.03" stroke="#d0d0d0" stroke-width="0.8" fill="none"/><path d="M454.15 451.40V492.60M451.35 451.40H456.95M451.35 492.60H456.95" stroke="#d0d0d0" stroke-width="0.8" fill="none"/><path d="M563.54 455.00V471.80M560.74 455.00H566.34M560.74 471.80H566.34" stroke="#d0d0d0" stroke-width="0.8" fill="none"/><path d="M381.23 444.90V457.00M378.43 444.90H384.03M378.43 457.00H384.03" stroke="#d0d0d0" stroke-width="0.8" fill="none"/><path d="M399.46 421.90V441.00M396.66 421.90H402.26M396.66 441.00H402.26" stroke="#d0d0d0" stroke-width="0.8" fill="none"/><path d="M417.69 449.20V466.40M414.89 449.20H420.49M414.89 466.40H420.49" stroke="#d0d0d0" stroke-width="0.8" fill="none"/><path d="M435.92 445.90V454.00M433.12 445.90H438.72M433.12 454.00H438.72" stroke="#d0d0d0" stroke-width="0.8" fill="none"/><path d="M454.15 451.40V463.80M451.35 451.40H456.95M451.35 463.80H456.95" stroke="#d0d0d0" stroke-width="0.8" fill="none"/><path d="M490.62 447.80V464.80M487.82 447.80H493.42M487.82 464.80H493.42" stroke="#d0d0d0" stroke-width="0.8" fill="none"/><path d="M508.85 447.80V456.00M506.05 447.80H511.65M506.05 456.00H511.65" stroke="#d0d0d0" stroke-width="0.8" fill="none"/><path d="M527.08 447.40V458.00M524.28 447.40H529.88M524.28 458.00H529.88" stroke="#d0d0d0" stroke-width="0.8" fill="none"/><path d="M545.31 452.30V464.00M542.51 452.30H548.11M542.51 464.00H548.11" stroke="#d0d0d0" stroke-width="0.8" fill="none"/><path d="M563.54 442.50V463.00M560.74 442.50H566.34M560.74 463.00H566.34" stroke="#d0d0d0" stroke-width="0.8" fill="none"/><path d="M381.23 450.80 L399.46 431.30 L417.69 453.40 L435.92 449.80 L454.15 458.20 L472.38 449.80 L490.62 456.20 L508.85 452.00 L527.08 458.40 L545.31 458.20 L563.54 452.80 L581.77 463.80" stroke="#f08a8a" stroke-width="1.0" fill="none" stroke-linejoin="round"/><path d="M381.23 472.80 L399.46 437.50 L417.69 458.20 L435.92 458.20 L454.15 471.80 L472.38 453.40 L490.62 459.80 L508.85 453.30 L527.08 453.80 L545.31 461.80 L563.54 463.20 L581.77 457.40" stroke="#8585f2" stroke-width="1.0" fill="none" stroke-linejoin="round"/><path d="M381.23 447.80L384.53 453.70L377.93 453.70Z" fill="#ee2a22"/><path d="M399.46 428.30L402.76 434.20L396.16 434.20Z" fill="#ee2a22"/><path d="M417.69 450.40L420.99 456.30L414.39 456.30Z" fill="#ee2a22"/><path d="M435.92 446.80L439.22 452.70L432.62 452.70Z" fill="#ee2a22"/><path d="M454.15 455.20L457.45 461.10L450.85 461.10Z" fill="#ee2a22"/><path d="M472.38 446.80L475.68 452.70L469.08 452.70Z" fill="#ee2a22"/><path d="M490.62 453.20L493.92 459.10L487.32 459.10Z" fill="#ee2a22"/><path d="M508.85 449.00L512.15 454.90L505.55 454.90Z" fill="#ee2a22"/><path d="M527.08 455.40L530.38 461.30L523.78 461.30Z" fill="#ee2a22"/><path d="M545.31 455.20L548.61 461.10L542.01 461.10Z" fill="#ee2a22"/><path d="M563.54 449.80L566.84 455.70L560.24 455.70Z" fill="#ee2a22"/><path d="M581.77 460.80L585.07 466.70L578.47 466.70Z" fill="#ee2a22"/><circle cx="381.23" cy="472.80" r="3.0" stroke="#1010ff" stroke-width="1.6" fill="none"/><circle cx="399.46" cy="437.50" r="3.0" stroke="#1010ff" stroke-width="1.6" fill="none"/><circle cx="417.69" cy="458.20" r="3.0" stroke="#1010ff" stroke-width="1.6" fill="none"/><circle cx="435.92" cy="458.20" r="3.0" stroke="#1010ff" stroke-width="1.6" fill="none"/><circle cx="454.15" cy="471.80" r="3.0" stroke="#1010ff" stroke-width="1.6" fill="none"/><circle cx="472.38" cy="453.40" r="3.0" stroke="#1010ff" stroke-width="1.6" fill="none"/><circle cx="490.62" cy="459.80" r="3.0" stroke="#1010ff" stroke-width="1.6" fill="none"/><circle cx="508.85" cy="453.30" r="3.0" stroke="#1010ff" stroke-width="1.6" fill="none"/><circle cx="527.08" cy="453.80" r="3.0" stroke="#1010ff" stroke-width="1.6" fill="none"/><circle cx="545.31" cy="461.80" r="3.0" stroke="#1010ff" stroke-width="1.6" fill="none"/><circle cx="563.54" cy="463.20" r="3.0" stroke="#1010ff" stroke-width="1.6" fill="none"/><circle cx="581.77" cy="457.40" r="3.0" stroke="#1010ff" stroke-width="1.6" fill="none"/><path d="M363 381.5H600V540H363Z" stroke="#444" stroke-width="1.2" fill="none"/><path d="M359.00 540.00H363" stroke="#444" stroke-width="1.2"/><text transform="translate(358.00 544.60) scale(0.93 1)" text-anchor="end" font-size="10.1" style="stroke-width:0.2px">0.0</text><path d="M359.00 487.17H363" stroke="#444" stroke-width="1.2"/><text transform="translate(358.00 491.77) scale(0.93 1)" text-anchor="end" font-size="10.1" style="stroke-width:0.2px">0.5</text><path d="M359.00 434.33H363" stroke="#444" stroke-width="1.2"/><text transform="translate(358.00 438.93) scale(0.93 1)" text-anchor="end" font-size="10.1" style="stroke-width:0.2px">1.0</text><path d="M359.00 381.50H363" stroke="#444" stroke-width="1.2"/><text transform="translate(358.00 386.10) scale(0.93 1)" text-anchor="end" font-size="10.1" style="stroke-width:0.2px">1.5</text><path d="M363.00 540V544" stroke="#444" stroke-width="1.2"/><text x="366.20" y="553.50" text-anchor="end" font-size="10.4" transform="rotate(-45 366.20 553.50)">-1</text><path d="M381.23 540V544" stroke="#444" stroke-width="1.2"/><text x="384.43" y="553.50" text-anchor="end" font-size="10.4" transform="rotate(-45 384.43 553.50)">0</text><path d="M399.46 540V544" stroke="#444" stroke-width="1.2"/><text x="402.66" y="553.50" text-anchor="end" font-size="10.4" transform="rotate(-45 402.66 553.50)">1</text><path d="M417.69 540V544" stroke="#444" stroke-width="1.2"/><text x="420.89" y="553.50" text-anchor="end" font-size="10.4" transform="rotate(-45 420.89 553.50)">2</text><path d="M435.92 540V544" stroke="#444" stroke-width="1.2"/><text x="439.12" y="553.50" text-anchor="end" font-size="10.4" transform="rotate(-45 439.12 553.50)">3</text><path d="M454.15 540V544" stroke="#444" stroke-width="1.2"/><text x="457.35" y="553.50" text-anchor="end" font-size="10.4" transform="rotate(-45 457.35 553.50)">4</text><path d="M472.38 540V544" stroke="#444" stroke-width="1.2"/><text x="475.58" y="553.50" text-anchor="end" font-size="10.4" transform="rotate(-45 475.58 553.50)">5</text><path d="M490.62 540V544" stroke="#444" stroke-width="1.2"/><text x="493.82" y="553.50" text-anchor="end" font-size="10.4" transform="rotate(-45 493.82 553.50)">6</text><path d="M508.85 540V544" stroke="#444" stroke-width="1.2"/><text x="512.05" y="553.50" text-anchor="end" font-size="10.4" transform="rotate(-45 512.05 553.50)">7</text><path d="M527.08 540V544" stroke="#444" stroke-width="1.2"/><text x="530.28" y="553.50" text-anchor="end" font-size="10.4" transform="rotate(-45 530.28 553.50)">8</text><path d="M545.31 540V544" stroke="#444" stroke-width="1.2"/><text x="548.51" y="553.50" text-anchor="end" font-size="10.4" transform="rotate(-45 548.51 553.50)">9</text><path d="M563.54 540V544" stroke="#444" stroke-width="1.2"/><text x="566.74" y="553.50" text-anchor="end" font-size="10.4" transform="rotate(-45 566.74 553.50)">10</text><path d="M581.77 540V544" stroke="#444" stroke-width="1.2"/><text x="584.97" y="553.50" text-anchor="end" font-size="10.4" transform="rotate(-45 584.97 553.50)">11</text><path d="M600.00 540V544" stroke="#444" stroke-width="1.2"/><text x="603.20" y="553.50" text-anchor="end" font-size="10.4" transform="rotate(-45 603.20 553.50)">12</text><text x="332.90" y="460.15" text-anchor="middle" font-size="10.45" style="stroke-width:0.25px" transform="rotate(-90 332.90 460.15)">PON (μM)</text><text x="583.60" y="403.00" font-size="12.5">f</text><text x="481.50" y="568.00" text-anchor="middle" font-size="9">days</text></g>
</svg>
</body></html>
